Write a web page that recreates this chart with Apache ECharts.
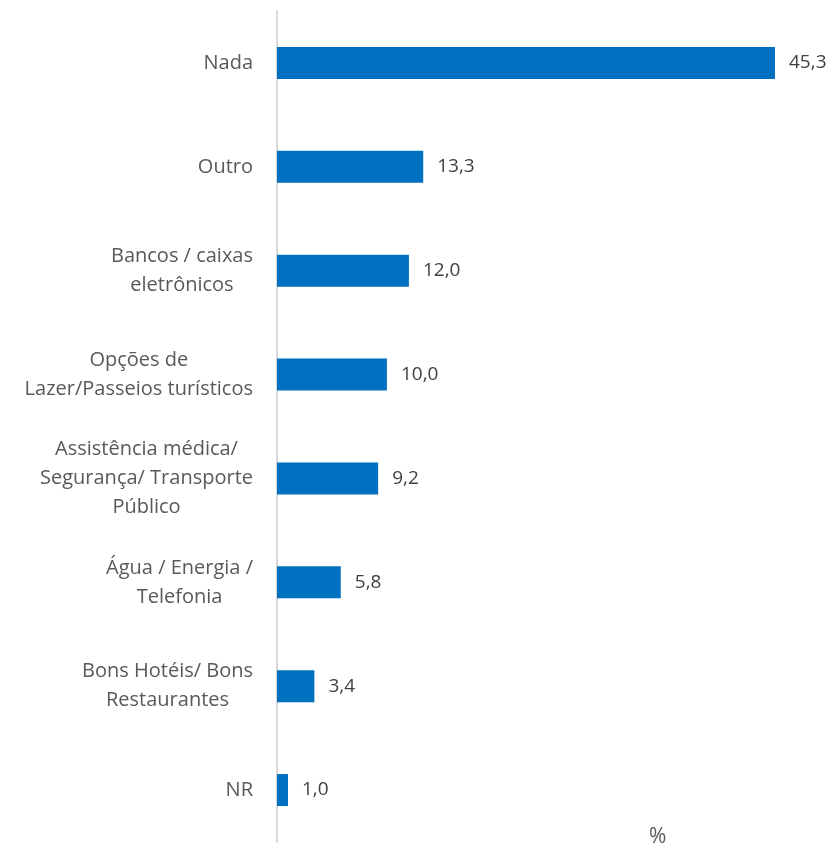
<!DOCTYPE html>
<html>
<head>
<meta charset="utf-8">
<script src="https://cdn.jsdelivr.net/npm/echarts@6/dist/echarts.min.js"></script>
<style>html,body{margin:0;padding:0;background:#fff;}#c{width:828px;height:849px;}</style>
</head>
<body>
<div id="c"></div>
<script>
const categories = [
  "Nada",
  "Outro",
  "Bancos / caixas\neletrônicos",
  "Opções de\nLazer/Passeios turísticos",
  "Assistência médica/\nSegurança/ Transporte\nPúblico",
  "Água / Energia /\nTelefonia",
  "Bons Hotéis/ Bons\nRestaurantes",
  "NR"
];
const values = [45.3, 13.3, 12.0, 10.0, 9.2, 5.8, 3.4, 1.0];
const unitLabel = "%";

const chart = echarts.init(document.getElementById('c'), null, {renderer: 'canvas'});
const font = '"Open Sans", sans-serif';
chart.setOption({
  animation: false,
  backgroundColor: '#fff',
  textStyle: {fontFamily: font},
  title: {
    text: unitLabel,
    left: 644, top: 822,
    textStyle: {fontFamily: font, fontSize: 21, fontWeight: 'normal', color: '#595959'}
  },
  grid: {left: 277, right: 53, top: 11, bottom: 7, containLabel: false},
  xAxis: {
    type: 'value', min: 0, max: 45.3,
    show: false
  },
  yAxis: {
    type: 'category',
    inverse: true,
    data: categories,
    axisLine: {show: true, lineStyle: {color: '#d9d9d9', width: 2}},
    axisTick: {show: false},
    splitLine: {show: false},
    axisLabel: {
      margin: 24,
      align: 'right',
      color: '#595959',
      fontSize: 20,
      fontFamily: font,
      lineHeight: 29,
      formatter: function (v) {
        return v.split('\n').map(function (s) { return '{c|' + s + '}'; }).join('\n');
      },
      rich: {c: {align: 'center', fontSize: 20, lineHeight: 29, color: '#595959', fontFamily: font}}
    }
  },
  series: [{
    type: 'bar',
    data: values,
    barWidth: 32,
    itemStyle: {color: '#0070C0'},
    label: {
      show: true,
      position: 'right',
      distance: 14,
      color: '#404040',
      fontSize: 19,
      fontFamily: font,
      formatter: function (p) { return p.value.toFixed(1).replace('.', ','); }
    }
  }]
});
</script>
</body>
</html>
